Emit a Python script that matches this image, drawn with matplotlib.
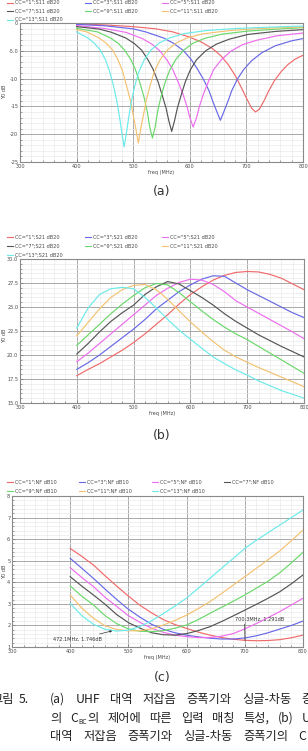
import matplotlib
matplotlib.use("Agg")
import matplotlib.pyplot as plt
from matplotlib.lines import Line2D
from matplotlib.ticker import MultipleLocator, FuncFormatter

W, H = 308, 751
fig = plt.figure(figsize=(W / 100, H / 100), dpi=100)


def fx(px):
    return px / W


def fy(py):
    return 1 - py / H


# ---------------- data ----------------
cc_names = ["1", "3", "5", "7", "9", "11", "13"]
colors = ["#f06a6a", "#6868e8", "#ee6cee", "#555555", "#6ad86a", "#f4c272", "#6ceaea"]

# (a) S11 dB20 : per-curve frequency (MHz) and value (dB)
s11_f_cc1 = [400, 450, 500, 540, 570, 600, 620, 640, 655, 668, 680, 691, 701, 709, 716, 723, 731, 740, 750, 761, 773, 786, 800]
s11_cc1 = [-0.15, -0.35, -0.65, -1.05, -1.6, -2.55, -3.4, -4.6, -5.9, -7.5, -9.4, -11.6, -13.7, -15.3, -16.0, -15.5, -14.0, -12.1, -10.3, -8.8, -7.5, -6.5, -5.8]
s11_f_cc3 = [400, 450, 500, 522, 554, 572, 588, 602, 613, 624, 634, 641, 648, 654, 660, 667, 674, 684, 695, 709, 728, 751, 780, 800]
s11_cc3 = [-0.25, -0.5, -1.05, -1.6, -2.7, -3.7, -4.9, -6.5, -8.2, -10.1, -12.2, -14.2, -16.0, -17.5, -16.0, -14.2, -12.2, -10.1, -8.4, -6.8, -5.3, -4.1, -3.2, -2.8]
s11_f_cc5 = [400, 450, 488, 516, 533, 547, 560, 570, 579, 588, 595, 600, 606, 612, 617, 624, 633, 642, 655, 672, 693, 718, 754, 800]
s11_cc5 = [-0.45, -1.0, -1.7, -2.8, -3.8, -5.0, -6.7, -8.4, -10.5, -12.8, -15.0, -17.0, -18.7, -17.0, -15.0, -12.8, -10.5, -8.4, -6.7, -5.1, -3.9, -3.1, -2.3, -1.8]
s11_f_cc7 = [400, 440, 461, 487, 502, 515, 526, 535, 544, 551, 558, 563, 568, 573, 578, 585, 592, 601, 612, 628, 647, 670, 703, 753, 800]
s11_cc7 = [-0.65, -1.1, -1.65, -2.7, -3.7, -4.9, -6.6, -8.3, -10.6, -12.9, -15.3, -17.6, -19.5, -17.6, -15.3, -12.9, -10.6, -8.4, -6.6, -5.0, -3.8, -2.9, -2.05, -1.5, -1.2]
s11_f_cc9 = [400, 437, 460, 474, 485, 496, 504, 512, 519, 525, 529, 534, 539, 543, 549, 556, 564, 575, 589, 606, 627, 657, 703, 761, 800]
s11_cc9 = [-0.95, -1.6, -2.7, -3.7, -4.9, -6.6, -8.4, -10.8, -13.3, -16.0, -18.6, -20.7, -18.6, -16.0, -13.3, -10.8, -8.6, -6.6, -4.9, -3.6, -2.75, -2.0, -1.45, -1.05, -0.85]
s11_f_cc11 = [400, 418, 440, 453, 464, 473, 481, 488, 495, 500, 505, 509, 513, 518, 523, 530, 537, 547, 560, 576, 595, 623, 667, 721, 800]
s11_cc11 = [-1.2, -1.6, -2.7, -3.7, -4.9, -6.6, -8.6, -11.2, -13.9, -16.6, -19.2, -21.6, -19.2, -16.6, -13.9, -11.2, -8.8, -6.7, -4.9, -3.6, -2.7, -1.95, -1.4, -1.0, -0.72]
s11_f_cc13 = [400, 420, 432, 442, 451, 458, 465, 471, 476, 480, 484, 488, 492, 497, 503, 510, 519, 531, 546, 564, 590, 630, 680, 740, 800]
s11_cc13 = [-1.6, -2.7, -3.7, -4.9, -6.6, -8.6, -11.2, -14.0, -17.0, -19.8, -22.3, -19.8, -17.0, -14.0, -11.2, -8.8, -6.7, -4.9, -3.6, -2.7, -1.9, -1.35, -1.0, -0.75, -0.55]

# (b) S21 dB20 and (c) NF dB10 on a shared frequency grid (MHz)
freq_grid = [400, 420, 440, 460, 480, 500, 520, 540, 560, 580, 600, 620, 640, 660, 680, 700, 720, 740, 760, 780, 800]
s21_cc1 = [17.85, 18.5, 19.1, 19.8, 20.5, 21.3, 22.2, 23.2, 24.2, 25.3, 26.3, 27.1, 27.8, 28.3, 28.6, 28.7, 28.65, 28.4, 28.0, 27.4, 26.8]
s21_cc3 = [18.5, 19.2, 20.0, 20.9, 21.8, 22.7, 23.7, 24.8, 25.7, 26.6, 27.3, 27.9, 28.25, 28.2, 27.5, 26.8, 26.2, 25.6, 25.0, 24.4, 23.9]
s21_cc5 = [19.3, 20.2, 21.2, 22.2, 23.2, 24.2, 25.2, 26.2, 26.95, 27.55, 27.9, 27.8, 27.35, 26.6, 25.65, 25.0, 24.35, 23.7, 23.05, 22.4, 21.7]
s21_cc7 = [20.1, 21.2, 22.4, 23.5, 24.4, 25.2, 26.3, 27.1, 27.65, 27.4, 26.7, 26.0, 25.2, 24.3, 23.5, 22.8, 22.1, 21.5, 20.9, 20.35, 19.8]
s21_cc9 = [21.0, 22.1, 23.2, 24.3, 25.3, 26.2, 27.0, 27.45, 27.3, 26.5, 25.55, 24.6, 23.7, 22.9, 22.2, 21.6, 20.9, 20.2, 19.5, 18.8, 18.1]
s21_cc11 = [22.0, 23.4, 24.8, 26.0, 26.8, 27.25, 27.35, 26.8, 25.8, 24.6, 23.45, 22.4, 21.4, 20.5, 19.8, 19.25, 18.7, 18.2, 17.7, 17.2, 16.7]
s21_cc13 = [22.8, 24.9, 26.3, 26.9, 27.05, 26.9, 26.0, 24.9, 23.7, 22.6, 21.65, 20.7, 19.8, 19.1, 18.45, 17.9, 17.3, 16.8, 16.3, 15.9, 15.5]

nf_cc1 = [5.57, 5.2, 4.8, 4.3, 3.82, 3.36, 2.93, 2.58, 2.27, 2.04, 1.86, 1.69, 1.55, 1.44, 1.36, 1.31, 1.29, 1.3, 1.34, 1.43, 1.55]
nf_cc3 = [5.11, 4.65, 4.18, 3.68, 3.2, 2.75, 2.38, 2.05, 1.82, 1.66, 1.55, 1.47, 1.41, 1.37, 1.37, 1.42, 1.52, 1.66, 1.83, 2.0, 2.2]
nf_cc5 = [4.68, 4.22, 3.8, 3.3, 2.88, 2.45, 2.14, 1.87, 1.68, 1.55, 1.48, 1.44, 1.44, 1.5, 1.62, 1.84, 2.09, 2.36, 2.64, 2.95, 3.26]
nf_cc7 = [4.26, 3.82, 3.41, 2.98, 2.5, 2.13, 1.87, 1.66, 1.57, 1.55, 1.62, 1.76, 1.94, 2.18, 2.44, 2.71, 2.98, 3.26, 3.56, 3.93, 4.34]
nf_cc9 = [3.83, 3.35, 2.95, 2.45, 2.08, 1.84, 1.73, 1.71, 1.76, 1.87, 2.02, 2.27, 2.56, 2.84, 3.12, 3.41, 3.73, 4.05, 4.44, 4.9, 5.39]
nf_cc11 = [3.41, 2.8, 2.33, 1.98, 1.81, 1.75, 1.75, 1.84, 2.02, 2.23, 2.48, 2.78, 3.1, 3.48, 3.87, 4.26, 4.65, 5.05, 5.45, 5.93, 6.42]
nf_cc13 = [3.02, 2.45, 2.05, 1.82, 1.74, 1.78, 1.95, 2.22, 2.55, 2.9, 3.27, 3.72, 4.18, 4.65, 5.1, 5.57, 5.95, 6.3, 6.65, 7.0, 7.35]

marker1_freq, marker1_nf = 472.1, 1.746
marker2_freq, marker2_nf = 700.3, 1.291

s11_series = [(s11_f_cc1, s11_cc1), (s11_f_cc3, s11_cc3), (s11_f_cc5, s11_cc5), (s11_f_cc7, s11_cc7),
              (s11_f_cc9, s11_cc9), (s11_f_cc11, s11_cc11), (s11_f_cc13, s11_cc13)]
s21_series = [s21_cc1, s21_cc3, s21_cc5, s21_cc7, s21_cc9, s21_cc11, s21_cc13]
nf_series = [nf_cc1, nf_cc3, nf_cc5, nf_cc7, nf_cc9, nf_cc11, nf_cc13]

# ---------------- styling helpers ----------------
TICK_FS = 3.6
TXT_C = "#4a4a4a"


def make_axes(l, t, r, b):
    return fig.add_axes([fx(l), fy(b), fx(r - l), (b - t) / H])


def style(ax, ylim, ymaj, ymin, fmt):
    ax.set_xlim(300, 800)
    ax.set_ylim(*ylim)
    ax.xaxis.set_major_locator(MultipleLocator(100))
    ax.xaxis.set_minor_locator(MultipleLocator(20))
    ax.yaxis.set_major_locator(MultipleLocator(ymaj))
    ax.yaxis.set_minor_locator(MultipleLocator(ymin))
    ax.yaxis.set_major_formatter(FuncFormatter(fmt))
    ax.xaxis.set_major_formatter(FuncFormatter(lambda v, p: "%d" % v))
    ax.grid(which="major", color="#a9a9a9", lw=0.7)
    ax.grid(which="minor", color="#e8e8e8", lw=0.45)
    ax.set_axisbelow(True)
    for s in ax.spines.values():
        s.set_color("#8a8a8a")
        s.set_linewidth(0.8)
    ax.tick_params(which="both", direction="in", colors="#777777", labelsize=TICK_FS,
                   labelcolor=TXT_C, pad=1.2, width=0.5)
    ax.tick_params(which="major", length=2.2)
    ax.tick_params(which="minor", length=1.4)
    ax.set_xlabel("freq (MHz)", fontsize=TICK_FS, color=TXT_C, labelpad=0.8)


def legend(entries, rows_y, cols_x, ncol):
    for i, (lab, col) in enumerate(entries):
        r, c = divmod(i, ncol)
        x, y = cols_x[c], rows_y[r]
        fig.add_artist(Line2D([fx(x), fx(x + 6)], [fy(y), fy(y)], color=col, lw=0.8,
                              transform=fig.transFigure))
        fig.text(fx(x + 8), fy(y), lab, fontsize=TICK_FS, color=TXT_C, va="center", ha="left")


def ylab(y):
    fig.text(fx(5), fy(y), "Y0 dB", rotation=90, fontsize=TICK_FS, color=TXT_C,
             ha="center", va="center")


def fmt_a(v, p):
    if v == 0:
        return "0"
    return "%.1f" % v if abs(v) < 10 else "%d" % v


# ---------------- (a) ----------------
ax_a = make_axes(20, 23, 303, 162)
for (f, v), col in zip(s11_series, colors):
    ax_a.plot(f, v, color=col, lw=0.85)
style(ax_a, (-25, 0), 5, 1, fmt_a)
legend([('CC="%s";S11 dB20' % n, c) for n, c in zip(cc_names, colors)],
       [2.5, 11, 19.5], [7, 85, 162], 3)
ylab(92)

# ---------------- (b) ----------------
ax_b = make_axes(20, 259, 304, 403)
for v, col in zip(s21_series, colors):
    ax_b.plot(freq_grid, v, color=col, lw=0.85)
style(ax_b, (15, 30), 2.5, 0.5, lambda v, p: "%.1f" % v)
legend([('CC="%s";S21 dB20' % n, c) for n, c in zip(cc_names, colors)],
       [237, 246, 255], [7, 85, 162], 3)
ylab(336)

# ---------------- (c) ----------------
ax_c = make_axes(12, 496, 303, 647)
for v, col in zip(nf_series, colors):
    ax_c.plot(freq_grid, v, color=col, lw=0.85)
style(ax_c, (1, 8), 1, 0.2, lambda v, p: "%d" % v)
legend([('CC="%s";NF dB10' % n, c) for n, c in zip(cc_names, colors)],
       [482, 491], [7, 79, 152, 224], 4)
ylab(572)
ax_c.annotate("%.1fMHz, %.3fdB" % (marker1_freq, marker1_nf), xy=(marker1_freq, marker1_nf),
              xytext=(-7, -6), textcoords="offset points", ha="right", va="center",
              fontsize=TICK_FS, color="#333333",
              arrowprops=dict(arrowstyle="-|>", color="#333333", lw=0.5, mutation_scale=3,
                              shrinkA=0, shrinkB=0))
ax_c.annotate("%.1fMHz, %.3fdB" % (marker2_freq, marker2_nf), xy=(marker2_freq, marker2_nf),
              xytext=(-7, 14), textcoords="offset points", ha="left", va="bottom",
              fontsize=TICK_FS, color="#333333",
              arrowprops=dict(arrowstyle="-", color="#333333", lw=0.5, relpos=(0.19, 0),
                              shrinkA=0, shrinkB=0))

# ---------------- captions ----------------
for lab, y in (("(a)", 192), ("(b)", 435), ("(c)", 678)):
    fig.text(fx(162), fy(y), lab, fontsize=9, color="#333333", ha="center", va="center",
             family="DejaVu Sans")

KFONT = ["Noto Sans CJK KR", "DejaVu Sans"]
KC = "#222222"
KSIZE = 8.8
renderer = fig.canvas.get_renderer()


def place_words(x, base_y, words, space=8.0):
    """Place words one after another; a word is a list of (text, is_subscript)."""
    for word in words:
        for text, sub in word:
            if sub:
                t = fig.text(fx(x + 0.3), fy(base_y + 1.5), text, fontsize=KSIZE * 0.55,
                             family=KFONT, va="baseline", ha="left", color=KC)
            else:
                t = fig.text(fx(x), fy(base_y), text, fontsize=KSIZE, family=KFONT,
                             va="baseline", ha="left", color=KC)
            x += t.get_window_extent(renderer).width + 0.6
        x += space


def plain(s):
    return [[(w, False)] for w in s.split(" ")]


place_words(-9, 703, plain("그림 5."), space=5)
place_words(50, 703, plain("(a) UHF 대역 저잡음 증폭기와 싱글-차동 증폭기"), space=9.6)
place_words(50, 722, [[("의", False)], [("C", False), ("BC", True), ("의", False)]]
            + plain("제어에 따른 입력 매칭 특성, (b) UHF"), space=8.0)
place_words(50, 740, plain("대역 저잡음 증폭기와 싱글-차동 증폭기의")
            + [[("C", False), ("BC", True), ("의", False)]], space=10.0)

fig.savefig("out.png", dpi=100)
